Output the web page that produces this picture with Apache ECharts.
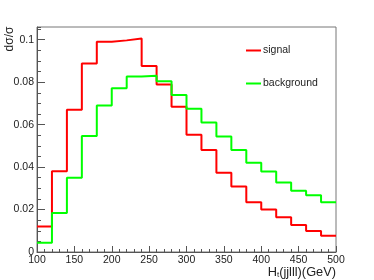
<!DOCTYPE html>
<html>
<head>
<meta charset="utf-8">
<script src="https://cdn.jsdelivr.net/npm/echarts@6/dist/echarts.min.js"></script>
<style>html,body{margin:0;padding:0;background:#fff}#c{width:374px;height:280px}</style>
</head>
<body>
<div id="c"></div>
<script>
var binEdges = [100,120,140,160,180,200,220,240,260,280,300,320,340,360,380,400,420,440,460,480,500];
var signal = [0.012,0.038,0.067,0.0888,0.099,0.0997,0.1006,0.0876,0.0789,0.0684,0.0552,0.0481,0.0373,0.0308,0.0234,0.0200,0.0164,0.0127,0.0099,0.0077];
var background = [0.0044,0.0184,0.035,0.0546,0.069,0.0772,0.0827,0.083,0.0805,0.074,0.0675,0.061,0.0544,0.0481,0.0421,0.0379,0.0327,0.0288,0.0267,0.0234];
var xTicks = [100,150,200,250,300,350,400,450,500];

function steps(vals){
  var d = [];
  for (var i = 0; i < vals.length; i++) d.push([binEdges[i], vals[i]]);
  d.push([binEdges[binEdges.length-1], vals[vals.length-1]]);
  return d;
}
var font = 'Liberation Sans, Arial, sans-serif';
var axisCol = '#555';
var chart = echarts.init(document.getElementById('c'), null, {renderer:'canvas'});
chart.setOption({
  animation:false,
  grid:{left:37,right:38,top:27,bottom:28,show:true,borderColor:'#777',borderWidth:1,backgroundColor:'transparent'},
  legend:{
    orient:'vertical', left:246, top:45, padding:0, itemGap:22, itemWidth:15, itemHeight:2, icon:'rect',
    textStyle:{fontFamily:font,fontSize:10.5,color:'#222',padding:[0,0,0,-3]},
    data:['signal','background']
  },
  xAxis:{
    type:'value', min:xTicks[0], max:xTicks[xTicks.length-1], interval:50,
    axisLine:{lineStyle:{color:axisCol,width:1}},
    axisTick:{inside:true,length:6,lineStyle:{color:axisCol}},
    minorTick:{show:true,splitNumber:5,length:3,lineStyle:{color:axisCol}},
    splitLine:{show:false},
    axisLabel:{margin:3,fontFamily:font,fontSize:10.5,color:'#222'}
  },
  yAxis:[{
    type:'value', min:0, max:0.106, interval:0.02,
    axisLine:{show:true,lineStyle:{color:axisCol,width:1}},
    axisTick:{show:true,inside:true,length:8,lineStyle:{color:axisCol}},
    splitLine:{show:false},
    axisLabel:{margin:3,fontFamily:font,fontSize:10.5,color:'#222',showMaxLabel:false,
      formatter:function(v){return v===0?'0':String(+v.toFixed(3));}}
  },{
    type:'value', min:0, max:0.106, interval:0.005, position:'left',
    axisLine:{show:false},
    axisTick:{show:true,inside:true,length:4,lineStyle:{color:axisCol}},
    splitLine:{show:false},
    axisLabel:{show:false}
  }],
  series:[
    {name:'signal',type:'line',step:'end',data:steps(signal),symbol:'none',color:'#ff0000',lineStyle:{width:2,color:'#ff0000'}},
    {name:'background',type:'line',step:'end',data:steps(background),symbol:'none',color:'#00ff00',lineStyle:{width:2,color:'#00ff00'}}
  ],
  graphic:[
    {type:'text',x:10,y:39,rotation:Math.PI/2,style:{text:'dσ/σ',align:'center',verticalAlign:'middle',font:'12px '+font,fill:'#222'}},
    {type:'text',x:336,y:272,style:{text:'{a|H}{s|t}{a|(jjlll)(GeV)}',align:'right',verticalAlign:'middle',
      rich:{a:{fontFamily:font,fontSize:12.8,fill:'#222',color:'#222'},s:{fontFamily:font,fontSize:8,color:'#222',fill:'#222',padding:[6,0,0,0]}}}}
  ]
});
</script>
</body>
</html>
